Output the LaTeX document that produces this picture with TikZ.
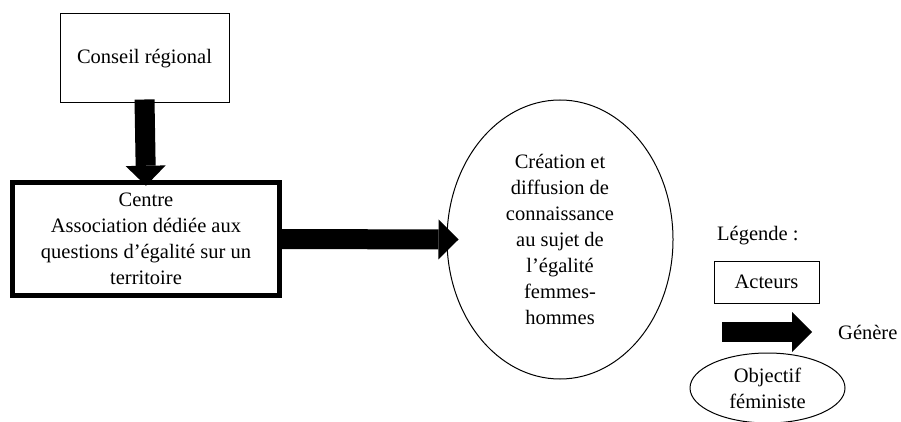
\documentclass[tikz,border=0pt]{standalone}
\usepackage{fontspec}
\setmainfont{Liberation Serif}
\usetikzlibrary{arrows.meta,shapes.geometric}
\tikzset{
  txt/.style={font=\fontsize{20.5}{26}\selectfont, align=center, inner sep=0pt},
  thinbox/.style={draw, line width=1pt, rectangle},
  thickbox/.style={draw, line width=4.5pt, rectangle},
  ell/.style={draw, line width=1pt, ellipse, inner sep=0pt},
  fat/.style={line width=20pt, -{Triangle[length=20pt 0, width=40pt 0, line width=0pt 0]}},
}
\begin{document}
\begin{tikzpicture}[x=1pt,y=-1pt]
\useasboundingbox (0,0) rectangle (901,422);
% actors
\node[thinbox, txt, minimum width=169pt, minimum height=89pt] (conseil) at (144.5,58.5) {Conseil régional};
\node[thickbox, txt, minimum width=267pt, minimum height=113pt] (centre) at (146,239)
  {Centre\\Association dédiée aux\\questions d’égalité sur un\\territoire};
% objective
\node[ell, txt, minimum width=226pt, minimum height=279pt] (obj) at (560,239.5)
  {Création et\\diffusion de\\connaissance\\au sujet de\\l’égalité\\femmes-\\hommes};
% arrows
\coordinate (downtip) at ([yshift=-5.5pt]centre.north);
\coordinate (righttip) at ([xshift=12pt]obj.west);
\draw[fat] ([yshift=4pt]conseil.south) -- (downtip);
\draw[fat] ([xshift=-4.5pt]centre.east) -- (righttip);
% legend
\node[txt, anchor=west] (leg) at (717,236) {Légende :};
\node[thinbox, txt, minimum width=105pt, minimum height=42pt] (act) at (766.5,282) {Acteurs};
\coordinate (la) at (722,332);
\coordinate (lb) at (812,332);
\draw[fat] (la) -- (lb);
\node[txt, anchor=west] (gen) at (838,332) {Génère};
\node[ell, txt, minimum width=155pt, minimum height=70pt] (lobj) at (767.5,388)
  {Objectif\\féministe};
\end{tikzpicture}
\end{document}
